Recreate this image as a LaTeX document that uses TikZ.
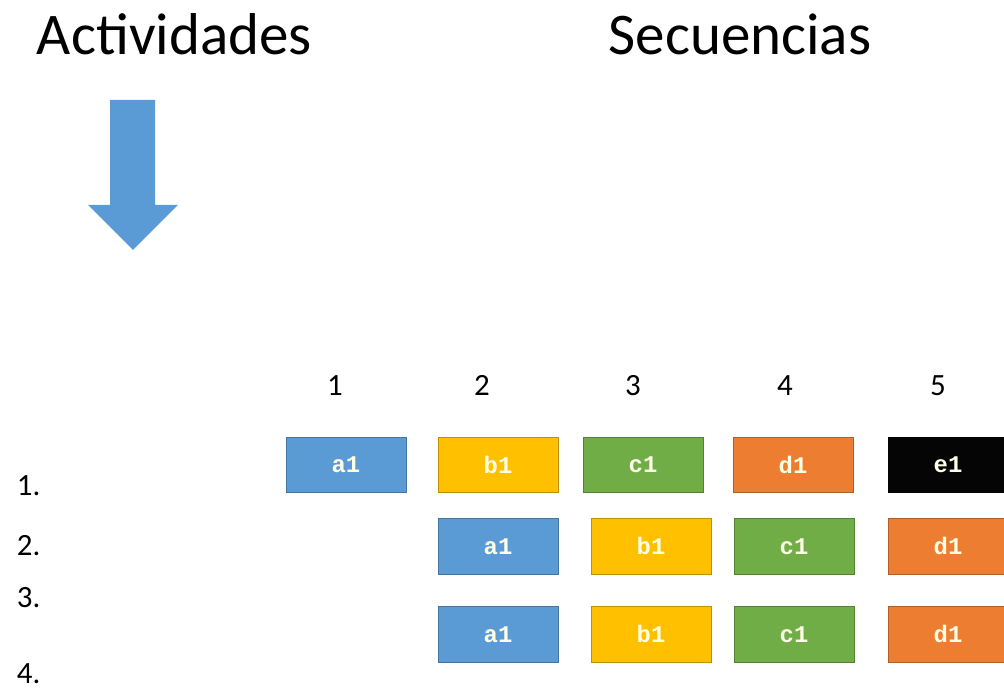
\documentclass[tikz,border=0pt]{standalone}
\usepackage{fontspec}
\setmainfont{Carlito}
\newfontfamily\boxfont{Liberation Mono}
\usepackage{tikz}
\usepackage{xcolor}

\definecolor{actblue}{HTML}{5B9BD5}
\definecolor{actyellow}{HTML}{FFC000}
\definecolor{actgreen}{HTML}{70AD47}
\definecolor{actorange}{HTML}{ED7D31}
\definecolor{actblack}{HTML}{050505}

\tikzset{
  title/.style={font=\fontsize{42}{48}\selectfont, anchor=base},
  colnum/.style={font=\fontsize{22}{26}\selectfont, anchor=base},
  rowlab/.style={font=\fontsize{22}{26}\selectfont, anchor=west},
  seqbox/.style={draw=#1!75!black, fill=#1, line width=0.6pt,
    minimum width=3.0cm, minimum height=1.38cm, inner sep=0pt,
    text=white!90!yellow, font=\boxfont\bfseries\fontsize{17}{19}\selectfont}
}

\begin{document}
\begin{tikzpicture}
  \useasboundingbox (0,0) rectangle (25.1,-17.325);

  \node[title, anchor=base west] (act) at (0.8,-1.375) {Actividades};
  \node[title] (sec) at (18.5,-1.375) {Secuencias};

  \fill[actblue] (2.75,-2.5) -- (3.875,-2.5) -- (3.875,-5.125) -- (4.45,-5.125)
    -- (3.325,-6.25) -- (2.2,-5.125) -- (2.75,-5.125) -- cycle;

  \foreach \n/\x in {1/8.375,2/12.05,3/15.825,4/19.625,5/23.45} {
    \node[colnum] (col\n) at (\x,-9.875) {\n};
  }

  \foreach \n/\y in {1/-12.15,2/-13.65,3/-14.95,4/-16.85} {
    \node[rowlab] (row\n) at (0.3,\y) {\n.};
  }

  \foreach \name/\x/\y/\c/\t in {
      ra/8.65/-11.625/actblue/a1,
      rb/12.45/-11.625/actyellow/b1,
      rc/16.075/-11.625/actgreen/c1,
      rd/19.825/-11.625/actorange/d1,
      re/23.7/-11.625/actblack/e1,
      sa/12.45/-13.66/actblue/a1,
      sb/16.275/-13.66/actyellow/b1,
      sc/19.85/-13.66/actgreen/c1,
      sd/23.7/-13.66/actorange/d1,
      ta/12.45/-15.86/actblue/a1,
      tb/16.275/-15.86/actyellow/b1,
      tc/19.85/-15.86/actgreen/c1,
      td/23.7/-15.86/actorange/d1} {
    \node[seqbox=\c] (\name) at (\x,\y) {\t};
  }
\end{tikzpicture}
\end{document}
